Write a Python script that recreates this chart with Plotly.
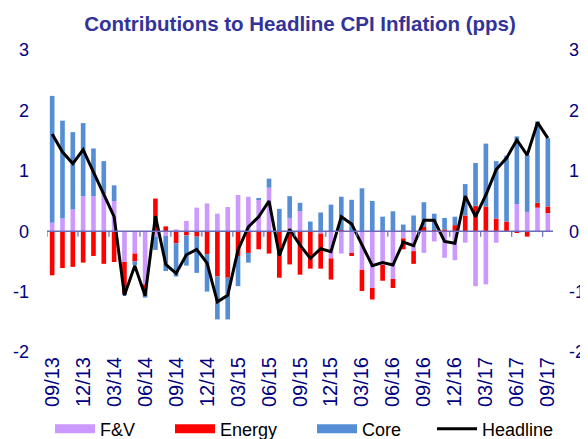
import plotly.graph_objects as go

months = ["09/13","10/13","11/13","12/13","01/14","02/14","03/14","04/14","05/14","06/14",
          "07/14","08/14","09/14","10/14","11/14","12/14","01/15","02/15","03/15","04/15",
          "05/15","06/15","07/15","08/15","09/15","10/15","11/15","12/15","01/16","02/16",
          "03/16","04/16","05/16","06/16","07/16","08/16","09/16","10/16","11/16","12/16",
          "01/17","02/17","03/17","04/17","05/17","06/17","07/17","08/17","09/17"]

tick_labels = ["09/13","12/13","03/14","06/14","09/14","12/14","03/15","06/15","09/15",
               "12/15","03/16","06/16","09/16","12/16","03/17","06/17","09/17"]

fv = [0.14,0.21,0.36,0.58,0.58,0.62,0.50,-0.51,-0.37,-0.88,
      -0.09,-0.08,0.03,0.17,0.39,0.46,0.29,0.40,0.60,0.57,
      0.53,0.72,0.00,0.22,0.33,0.00,-0.04,-0.45,-0.37,-0.36,
      -0.64,-0.94,-0.56,-0.79,-0.12,-0.33,-0.36,-0.17,-0.44,-0.48,
      -0.19,-0.91,-0.88,-0.19,0.00,0.45,0.32,0.39,0.30]

energy = [-0.73,-0.61,-0.59,-0.52,-0.41,-0.54,-0.51,-0.52,-0.13,-0.07,
          0.54,0.08,-0.20,-0.07,-0.09,-0.38,-0.75,-0.77,-0.41,-0.36,
          -0.30,-0.37,-0.77,-0.55,-0.72,-0.62,-0.58,-0.35,0.02,-0.05,
          -0.35,-0.19,-0.26,-0.15,-0.18,-0.21,0.07,0.02,0.03,0.10,
          0.26,0.42,0.41,0.21,0.16,-0.03,-0.09,0.08,0.11]

core = [2.10,1.62,1.28,1.21,0.79,0.54,0.26,-0.03,-0.06,-0.15,
        -0.22,-0.58,-0.55,-0.50,-0.60,-0.62,-0.71,-0.69,-0.50,-0.16,
        0.02,0.15,0.37,0.36,0.14,0.16,0.31,0.44,0.55,0.52,
        0.71,0.50,0.24,0.33,0.11,0.26,0.41,0.27,0.19,0.14,
        0.52,0.71,1.04,0.95,1.09,1.12,0.94,1.35,1.13]

headline = [1.61,1.31,1.12,1.35,0.98,0.61,0.24,-1.06,-0.57,-1.07,
            0.25,-0.55,-0.70,-0.39,-0.30,-0.53,-1.17,-1.06,-0.31,0.07,
            0.24,0.50,-0.40,0.03,-0.23,-0.45,-0.29,-0.34,0.24,0.12,
            -0.23,-0.57,-0.52,-0.56,-0.18,-0.24,0.18,0.18,-0.17,-0.20,
            0.58,0.24,0.60,1.02,1.21,1.51,1.26,1.80,1.54]

y_ticks = [-2, -1, 0, 1, 2, 3]
y_tick_text = ["-2", "-1", "0", "1", "2", "3"]

C_FV = "#cc99ff"
C_EN = "#ff0000"
C_CO = "#558ed5"
NAVY = "#000080"
FONT = "Liberation Sans, Arial, sans-serif"

fig = go.Figure()
for name, vals, col in [("F&V", fv, C_FV), ("Energy", energy, C_EN), ("Core", core, C_CO)]:
    fig.add_trace(go.Bar(x=months, y=vals, name=name, marker=dict(color=col, line=dict(width=0)),
                         showlegend=False))

fig.add_trace(go.Scatter(x=months, y=headline, mode="lines", name="Headline",
                         line=dict(color="black", width=3), yaxis="y2", showlegend=False))

# legend entries
legend_ids = ["legend", "legend2", "legend3", "legend4"]
for (name, col, w), lid in zip([("F&V", C_FV, 9), ("Energy", C_EN, 9), ("Core", C_CO, 9),
                                 ("Headline", "black", 3)], legend_ids):
    fig.add_trace(go.Scatter(x=[None], y=[None], mode="lines", name=name,
                             line=dict(color=col, width=w), legend=lid, showlegend=True))

# zero line with tick marks
n = len(months)
shapes = [dict(type="line", xref="x", yref="y", x0=-0.5, x1=n - 0.5, y0=0, y1=0,
               line=dict(color="#6b6bb8", width=1.5), layer="above")]
for i in range(0, n, 3):
    shapes.append(dict(type="line", xref="x", yref="y", x0=i - 0.5, x1=i - 0.5, y0=0, y1=-0.09,
                       line=dict(color="#6b6bb8", width=1.2), layer="above"))

# the page body adds an 8px offset; figure is sized so it ends at the window edge
OFF = 8
W, H = 588 - OFF, 439 - OFF
legend_pos = [50, 170, 312, 432]
leg_common = dict(orientation="h", yanchor="middle", xanchor="left",
                  xref="container", yref="container", y=1 - (429 - OFF) / H,
                  font=dict(family=FONT, size=18, color="black"),
                  bgcolor="rgba(0,0,0,0)", itemwidth=40, borderwidth=0)

layout_legends = {}
for lid, px in zip(legend_ids, legend_pos):
    layout_legends[lid] = dict(leg_common, x=(px - OFF) / W)

fig.update_layout(
    template="none",
    width=W, height=H,
    margin=dict(l=47 - OFF, r=35, t=50 - OFF, b=87, autoexpand=False),
    paper_bgcolor="white", plot_bgcolor="white",
    barmode="relative", bargap=0.55,
    title=dict(text="<b>Contributions to Headline CPI Inflation (pps)</b>",
               font=dict(family=FONT, size=20.5, color="#333399"),
               x=(300 - OFF) / W, xanchor="center", xref="container",
               y=1 - (24 - OFF) / H, yanchor="middle", yref="container"),
    xaxis=dict(type="category", range=[-0.5, n - 0.5], tickmode="array",
               tickvals=tick_labels, ticktext=tick_labels, tickangle=-90,
               tickfont=dict(family=FONT, size=20, color=NAVY), automargin=False,
               ticklabeloverflow="allow",
               showgrid=False, zeroline=False, showline=False, ticks=""),
    yaxis=dict(range=[-2, 3], tickmode="array", tickvals=y_ticks, ticktext=y_tick_text,
               showgrid=False, zeroline=False,
               showline=False, ticks="", ticklabelstandoff=17, automargin=False,
               ticklabeloverflow="allow",
               tickfont=dict(family=FONT, size=18, color=NAVY)),
    yaxis2=dict(range=[-2, 3], tickmode="array", tickvals=y_ticks, ticktext=y_tick_text,
                overlaying="y", side="right",
                showgrid=False, zeroline=False, showline=False, ticks="", ticklabelstandoff=15,
                automargin=False, ticklabeloverflow="allow",
                tickfont=dict(family=FONT, size=18, color=NAVY)),
    shapes=shapes,
    **layout_legends,
)

fig.write_html("out.html")
